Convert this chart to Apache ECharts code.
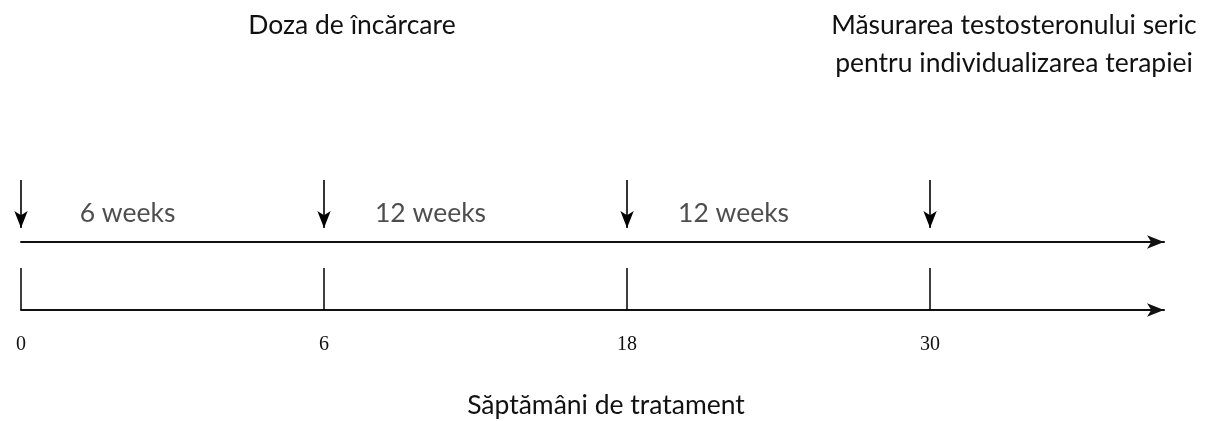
<!DOCTYPE html>
<html><head><meta charset="utf-8">
<script src="https://cdn.jsdelivr.net/npm/echarts@6/dist/echarts.min.js"></script>
<style>html,body{margin:0;padding:0;background:#fff}#c{width:1211px;height:421px}</style>
</head><body><div id="c"></div>
<script>
// ---- data ----
const weeks = [0, 6, 18, 30];                       // milestones (tick labels)
const doseWeeks = [0, 6, 18, 30];                   // dose arrows
const segmentLabels = ['6 weeks', '12 weeks', '12 weeks'];
const topLeftText = 'Doza de încărcare';
const topRightText = 'Măsurarea testosteronului seric\npentru individualizarea terapiei';
const axisTitle = 'Săptămâni de tratament';

// ---- layout ----
const XMAX = 3.772;           // milestone-index axis extent (schematic timeline)
const LEFT = 21, RIGHT = 47;
const idx = w => weeks.indexOf(w);
const milestoneIdx = weeks.map((w, i) => i);
const FONT = 'Lato, "Noto Sans", sans-serif';
const FS = 26.5;
const ARROW = [10, 17];

const chart = echarts.init(document.getElementById('c'), null, {renderer: 'canvas'});

const hiddenX = (gi) => ({gridIndex: gi, type: 'value', min: 0, max: XMAX, show: false});

const option = {
  backgroundColor: '#fff',
  animation: false,
  grid: [
    {left: LEFT, right: RIGHT, top: 180, height: 48},   // dose arrows
    {left: LEFT, right: RIGHT, top: 184, height: 58},   // upper timeline + segment labels
    {left: LEFT, right: RIGHT, top: 268, height: 42}    // weeks axis
  ],
  xAxis: [
    hiddenX(0),
    {
      gridIndex: 1, type: 'value', min: 0, max: XMAX,
      axisLine: {show: true, symbol: ['none', 'arrow'], symbolSize: ARROW,
        lineStyle: {color: '#111', width: 2}},
      axisTick: {show: false}, axisLabel: {show: false}, splitLine: {show: false}
    },
    {
      gridIndex: 2, type: 'value', min: 0, max: XMAX,
      axisLine: {show: true, symbol: ['none', 'arrow'], symbolSize: ARROW,
        lineStyle: {color: '#111', width: 2}},
      axisTick: {show: true, inside: true, length: 42, customValues: milestoneIdx,
        lineStyle: {color: '#000', width: 1.5}},
      axisLabel: {show: true, customValues: milestoneIdx, margin: 25,
        formatter: v => String(weeks[Math.round(v)]),
        fontFamily: '"Liberation Serif", serif', fontSize: 20, color: '#111'},
      splitLine: {show: false}
    }
  ],
  yAxis: [
    {gridIndex: 0, type: 'value', min: 0, max: 1, show: false},
    {gridIndex: 1, type: 'category', data: ['seg'], show: false},
    {gridIndex: 2, type: 'value', min: 0, max: 1, show: false}
  ],
  series: [
    {
      type: 'line', xAxisIndex: 0, yAxisIndex: 0, data: [], silent: true,
      markLine: {
        silent: true, animation: false,
        symbol: ['arrow', 'none'], symbolSize: ARROW,
        label: {show: false},
        lineStyle: {color: '#000', width: 1.6, type: 'solid'},
        data: doseWeeks.map(w => ({xAxis: idx(w)}))
      }
    },
    {
      type: 'scatter', xAxisIndex: 1, yAxisIndex: 1, silent: true,
      symbolSize: 0,
      data: segmentLabels.map((s, i) => ({value: [i + 0.5, 'seg'], name: s})),
      label: {show: true, position: 'inside', offset: [-45, 0],
        formatter: p => p.name, fontFamily: FONT, fontSize: FS, color: '#222'}
    }
  ],
  graphic: [
    {type: 'text', x: 352, y: 25, silent: true,
      style: {text: topLeftText, font: FS + 'px ' + FONT, fill: '#111',
        align: 'center', verticalAlign: 'middle'}},
    {type: 'text', x: 1014, y: 44, silent: true,
      style: {text: topRightText, font: FS + 'px ' + FONT, fill: '#111', lineHeight: 38,
        align: 'center', verticalAlign: 'middle'}},
    {type: 'text', x: 606, y: 405, silent: true,
      style: {text: axisTitle, font: FS + 'px ' + FONT, fill: '#111',
        align: 'center', verticalAlign: 'middle'}}
  ]
};
chart.setOption(option);
</script>
</body></html>
